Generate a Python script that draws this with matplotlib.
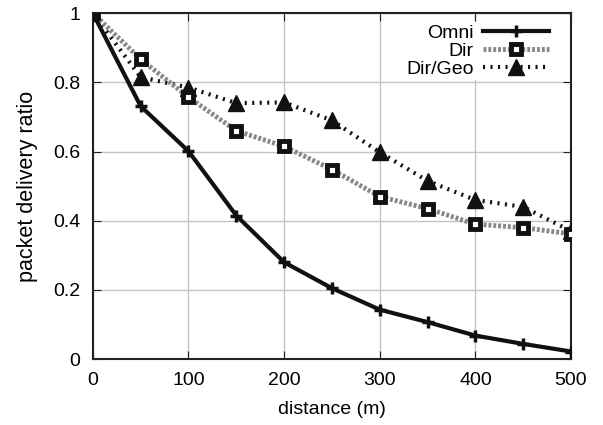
import numpy as np
import matplotlib.pyplot as plt

plt.rcParams['font.family'] = ['Liberation Sans', 'DejaVu Sans']

distance = [0, 50, 100, 150, 200, 250, 300, 350, 400, 450, 500]
omni = [1.0, 0.731, 0.601, 0.415, 0.280, 0.205, 0.143, 0.107, 0.068, 0.044, 0.022]
dir_ = [1.0, 0.867, 0.757, 0.660, 0.615, 0.548, 0.470, 0.435, 0.390, 0.380, 0.362]
dirgeo = [1.0, 0.815, 0.785, 0.740, 0.742, 0.690, 0.598, 0.515, 0.460, 0.440, 0.370]

fig = plt.figure(figsize=(6.03, 4.25), dpi=100)
ax = fig.add_axes([0.154, 0.155, 0.793, 0.814])

ax.plot(distance, omni, color='#111111', lw=3, marker='+', ms=9, mew=2.5,
        label='Omni', zorder=5)
ax.plot(distance, dir_, color='#888888', lw=3.5, ls=(0, (0.6, 0.4)),
        marker='s', ms=7, mfc='white', mec='#111111', mew=3.5,
        label='Dir', zorder=4)
ax.plot(distance, dirgeo, color='#111111', lw=3, ls=(0, (0.5, 1.3)),
        marker='^', ms=11, mfc='#111111', mec='#111111',
        label='Dir/Geo', zorder=3)

ax.set_xlim(0, 500)
ax.set_ylim(0, 1)
ax.set_xticks([0, 100, 200, 300, 400, 500])
ax.set_yticks([0, 0.2, 0.4, 0.6, 0.8, 1])
ax.set_yticklabels(['0', '0.2', '0.4', '0.6', '0.8', '1'])
ax.grid(True, color='#c4c4c4', lw=1)
ax.set_axisbelow(True)
ax.tick_params(direction='in', length=6, top=True, right=True,
               labelsize=14, pad=9, color='#222222')
for s in ax.spines.values():
    s.set_linewidth(1.5)
    s.set_color('#222222')
ax.set_xlabel('distance (m)', fontsize=14, labelpad=9)
ax.set_ylabel('packet delivery ratio', fontsize=15.5, labelpad=11)

leg = ax.legend(loc='upper right', bbox_to_anchor=(0.957, 0.974),
                markerfirst=False, frameon=True, fontsize=14,
                handlelength=3.35, borderaxespad=0.0, labelspacing=0.02,
                handletextpad=0.5, borderpad=0.1)
leg.get_frame().set_edgecolor('none')
leg.get_frame().set_alpha(1)
for t in leg.get_texts():
    t.set_ha('right')

fig.savefig('out.png', dpi=100)
